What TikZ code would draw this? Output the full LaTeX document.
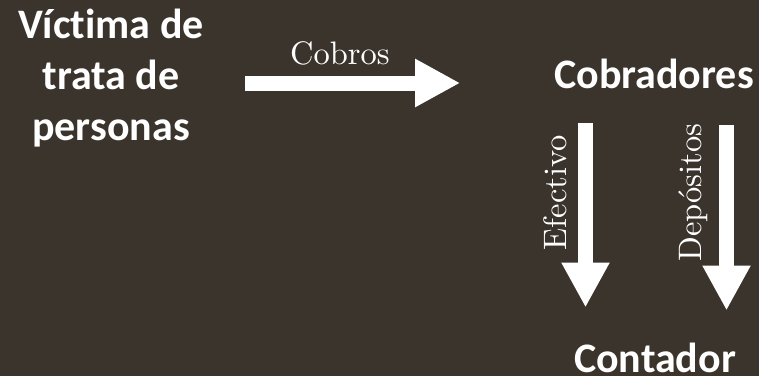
\documentclass[tikz,border=0pt]{standalone}
\usepackage{fontspec}
\newfontfamily\carlito[Ligatures=NoCommon]{Carlito}
\newfontfamily\lmdiez{lmroman10-regular}[Extension=.otf]
\usetikzlibrary{arrows.meta,calc}
\definecolor{fondo}{RGB}{59,52,44}

\begin{document}
\begin{tikzpicture}[x=1pt,y=1pt,
	caja/.style={text=white,inner sep=0pt,outer sep=0pt,align=center,font=\carlito\bfseries\fontsize{42}{51}\selectfont},
	etiqueta/.style={text=white,inner sep=0pt,outer sep=0pt,font=\lmdiez\fontsize{32.5}{36}\selectfont},
	flecha/.style={white,line width=15pt,-{Triangle[length=45pt,width=45pt]}}]
	 	\fill[fondo] (0,0) rectangle (759,376);
	 	\node[caja] (victima) at (111,298) {Víctima de\\trata de\\personas};
	 	\node[caja,anchor=base] (cobradores) at (654,288) {Cobradores};
	 	\node[caja,anchor=base] (contador) at (655,4) {Contador};
	 	% pago de la victima
	 	\draw[flecha] ([shift={(41.5,-5)}]victima.east) -- ($(victima.east -| cobradores.west)+(-94,-5)$)
	 		node[etiqueta,pos=0.44,above=18pt] (cobros) {Cobros};
	 	% reparto hacia el contador
	 	\draw[flecha] ([shift={(-68.5,-35)}]cobradores.south) -- ([shift={(-69.5,35)}]contador.north)
	 		node[etiqueta,pos=0.378,rotate=90,above=19pt] (efectivo) {Efectivo};
	 	\draw[flecha] ([shift={(72.5,-37)}]cobradores.south) -- ([shift={(71.5,32)}]contador.north)
	 		node[etiqueta,pos=0.363,rotate=90,above=19pt] (depositos) {Depósitos};
\end{tikzpicture}
\end{document}
